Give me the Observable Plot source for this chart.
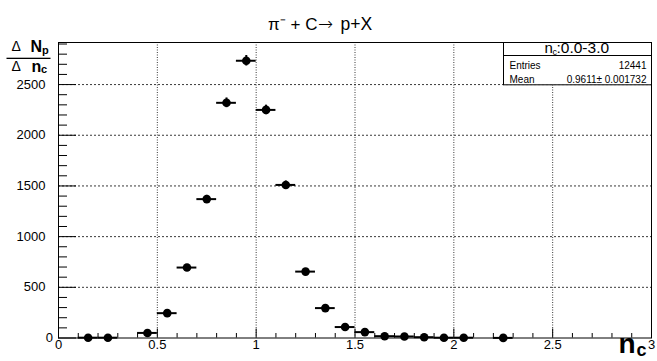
<!DOCTYPE html>
<html>
<head>
<meta charset="utf-8">
<script src="https://cdn.jsdelivr.net/npm/d3@7"></script>
<script src="https://cdn.jsdelivr.net/npm/@observablehq/plot@0.6"></script>
<style>
  html, body { margin: 0; padding: 0; background: #fff; }
  #chart svg { display: block; }
</style>
</head>
<body>
<div id="chart"></div>
<script>
// ---- data ----
const binCenters = [0.15, 0.25, 0.45, 0.55, 0.65, 0.75, 0.85, 0.95, 1.05, 1.15, 1.25, 1.35, 1.45, 1.55, 1.65, 1.75, 1.85, 1.95, 2.05, 2.25];
const counts     = [3, 3, 50, 245, 695, 1370, 2320, 2735, 2250, 1510, 655, 295, 108, 58, 18, 15, 8, 3, 3, 1];
const errors     = [2, 2, 7, 16, 26, 37, 48, 52, 47, 39, 26, 17, 10, 8, 4, 4, 3, 2, 2, 1];
const binHalfWidth = 0.05;

const xMajorTicks = [0, 0.5, 1, 1.5, 2, 2.5, 3];
const xMinorTicks = [0.1,0.2,0.3,0.4,0.6,0.7,0.8,0.9,1.1,1.2,1.3,1.4,1.6,1.7,1.8,1.9,2.1,2.2,2.3,2.4,2.6,2.7,2.8,2.9];
const yMajorTicks = [0, 500, 1000, 1500, 2000, 2500];
const yMinorTicks = [100,200,300,400,600,700,800,900,1100,1200,1300,1400,1600,1700,1800,1900,2100,2200,2300,2400,2600,2700,2800,2900];
const xGrid = [0.5, 1, 1.5, 2, 2.5];
const yGrid = [500, 1000, 1500, 2000, 2500];

const titleLeft = "π⁻ + C";
const titleArrow = "→";
const titleRight = "p+X";
const statsTitle = ":0.0-3.0";
const statsEntries = "12441";
const statsMean = "0.9611± 0.001732";

const data = binCenters.map((c, i) => ({c, n: counts[i], e: errors[i]}));

// ---- layout ----
const W = 657, H = 361;
const ML = 58, MT = 42, MR = 6, MB = 23.5;
const FW = W - ML - MR, FH = H - MT - MB;
const font = "'Liberation Sans', Arial, Helvetica, sans-serif";

function txt(s, x, y, o = {}) {
  return Plot.text([s], {text: d => d, frameAnchor: "top-left", lineAnchor: "middle", dx: x - ML, dy: y - MT, fill: "black", ...o});
}
function box(x1, y1, x2, y2, o = {}) {
  return Plot.frame({insetLeft: x1 - ML, insetTop: y1 - MT, insetRight: ML + FW - x2, insetBottom: MT + FH - y2, ...o});
}

const chart = Plot.plot({
  width: W, height: H,
  marginLeft: ML, marginTop: MT, marginRight: MR, marginBottom: MB,
  style: {fontFamily: font, fontSize: "13px", background: "white", color: "black"},
  x: {domain: [0, 3], label: null},
  y: {domain: [0, 2915], label: null},
  marks: [
    Plot.ruleY(yGrid, {y: d => d, stroke: "#222", strokeWidth: 0.9, strokeDasharray: "2,2"}),
    Plot.ruleX(xGrid, {x: d => d, stroke: "#222", strokeWidth: 0.9, strokeDasharray: "1,1.5"}),
    Plot.tickX(xMajorTicks, {x: d => d, insetTop: FH - 9, stroke: "black"}),
    Plot.tickX(xMinorTicks, {x: d => d, insetTop: FH - 4.5, stroke: "black"}),
    Plot.tickY(yMajorTicks, {y: d => d, insetRight: FW - 18, stroke: "black"}),
    Plot.tickY(yMinorTicks, {y: d => d, insetRight: FW - 9, stroke: "black"}),
    Plot.axisX(xMajorTicks, {tickSize: 0, tickPadding: 2, tickFormat: d => String(d), fontSize: 13}),
    Plot.axisY(yMajorTicks.slice(1), {tickSize: 0, tickPadding: 13, tickFormat: d => String(d), fontSize: 13}),
    Plot.axisY([0], {tickSize: 0, tickPadding: 5.5, tickFormat: d => String(d), fontSize: 13}),
    Plot.ruleY(data, {y: "n", x1: d => d.c - binHalfWidth, x2: d => d.c + binHalfWidth, stroke: "black", strokeWidth: 2}),
    Plot.ruleX(data, {x: "c", y1: d => Math.max(0, d.n - d.e), y2: d => d.n + d.e, stroke: "black", strokeWidth: 2}),
    Plot.dot(data, {x: "c", y: "n", r: 4.3, fill: "black", stroke: "none"}),
    Plot.frame({stroke: "black", strokeWidth: 1}),
    // stats box
    box(503, MT, 651, 84.3, {fill: "white", stroke: "black", strokeWidth: 1}),
    box(503, MT, 651, 55, {fill: "none", stroke: "black", strokeWidth: 1}),
    txt("n", 544, 48, {textAnchor: "start", fontSize: 15}),
    txt("c", 552, 51.5, {textAnchor: "start", fontSize: 9}),
    txt(statsTitle, 556, 48, {textAnchor: "start", fontSize: 15.5}),
    txt("Entries", 509, 65, {textAnchor: "start", fontSize: 10}),
    txt(statsEntries, 646, 65, {textAnchor: "end", fontSize: 10}),
    txt("Mean", 509, 79, {textAnchor: "start", fontSize: 10}),
    txt(statsMean, 646, 79, {textAnchor: "end", fontSize: 10}),
    // title
    txt(titleLeft, 317, 24, {textAnchor: "end", fontSize: 17}),
    txt(titleArrow, 317.5, 23.5, {textAnchor: "start", fontSize: 18, fontFamily: "'DejaVu Sans', sans-serif", fontWeight: 300}),
    txt(titleRight, 340, 24, {textAnchor: "start", fontSize: 17.5}),
    // y label (fraction)
    txt("Δ", 11, 46, {fontSize: 14}),
    txt("N", 30, 46, {fontSize: 16, fontWeight: "bold"}),
    txt("p", 41.5, 50, {fontSize: 11, fontWeight: "bold"}),
    box(6, 57.2, 50, 58.5, {fill: "black", stroke: "none"}),
    txt("Δ", 11, 66, {fontSize: 14}),
    txt("n", 31, 66, {fontSize: 16, fontWeight: "bold"}),
    txt("c", 40.5, 69, {fontSize: 11, fontWeight: "bold"}),
    // x label
    txt("n", 618, 344, {fontSize: 28, fontWeight: "bold"}),
    txt("c", 636, 350, {fontSize: 18, fontWeight: "bold"})
  ]
});
document.getElementById("chart").append(chart);
</script>
</body>
</html>
